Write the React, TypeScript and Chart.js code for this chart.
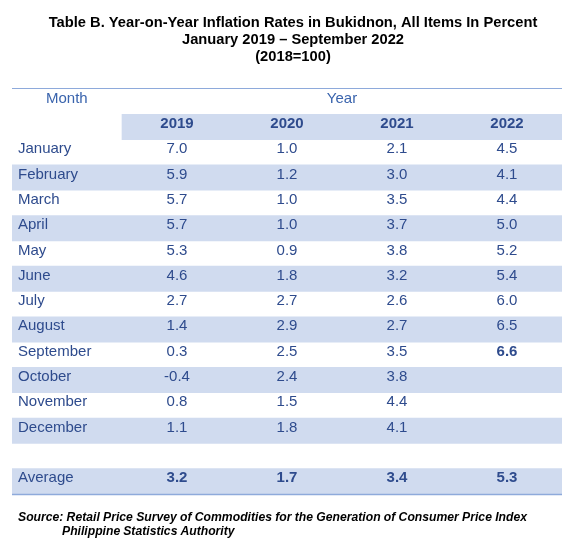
import React, { useEffect, useRef } from "react";
import { Chart, registerables } from "chart.js";

Chart.register(...registerables);

const titleLines = [
  "Table B. Year-on-Year Inflation Rates in Bukidnon, All Items In Percent",
  "January 2019 \u2013 September 2022",
  "(2018=100)",
];
const sourceLines = [
  "Source: Retail Price Survey of Commodities for the Generation of Consumer Price Index",
  "Philippine Statistics Authority",
];
const months = [
  "January", "February", "March", "April", "May", "June",
  "July", "August", "September", "October", "November", "December",
];
const years = ["2019", "2020", "2021", "2022"];
const v2019 = [7.0, 5.9, 5.7, 5.7, 5.3, 4.6, 2.7, 1.4, 0.3, -0.4, 0.8, 1.1];
const v2020 = [1.0, 1.2, 1.0, 1.0, 0.9, 1.8, 2.7, 2.9, 2.5, 2.4, 1.5, 1.8];
const v2021 = [2.1, 3.0, 3.5, 3.7, 3.8, 3.2, 2.6, 2.7, 3.5, 3.8, 4.4, 4.1];
const v2022 = [4.5, 4.1, 4.4, 5.0, 5.2, 5.4, 6.0, 6.5, 6.6, null, null, null];
const averages = [3.2, 1.7, 3.4, 5.3];
const series = [v2019, v2020, v2021, v2022];

const rowLabels = ["Month", "Years", ...months, "gap", "Average"];

const FONT = "Arial, 'Liberation Sans', sans-serif";
const BAND = "#D0DBEF";
const LINE = "#8EAADB";
const TEXT = "#2E4B8D";
const HEAD = "#3A64AD";

const tablePlugin = {
  id: "tableText",
  afterDatasetsDraw(chart: any) {
    const { ctx, chartArea } = chart;
    const x = chart.scales.x;
    const y = chart.scales.y;
    ctx.save();
    // rules
    ctx.strokeStyle = LINE;
    ctx.lineWidth = 1;
    ctx.beginPath();
    ctx.moveTo(chartArea.left, chartArea.top - 0.5);
    ctx.lineTo(chartArea.right, chartArea.top - 0.5);
    ctx.stroke();
    ctx.lineWidth = 1.5;
    ctx.beginPath();
    ctx.moveTo(chartArea.left, chartArea.bottom + 0.5);
    ctx.lineTo(chartArea.right, chartArea.bottom + 0.5);
    ctx.stroke();

    const base = (i: number) => y.getPixelForValue(i) + 1;
    const colX = (j: number) => x.getPixelForValue(1.5 + j);
    const left = x.getPixelForValue(0);

    ctx.textBaseline = "alphabetic";
    // header row
    ctx.fillStyle = HEAD;
    ctx.font = `15px ${FONT}`;
    ctx.textAlign = "left";
    ctx.fillText("Month", left + 34, base(0));
    ctx.textAlign = "center";
    ctx.fillText("Year", x.getPixelForValue(3), base(0));

    // year headers
    ctx.fillStyle = TEXT;
    ctx.font = `bold 15px ${FONT}`;
    years.forEach((yr, j) => ctx.fillText(yr, colX(j), base(1)));

    // months & values
    months.forEach((m, mi) => {
      const row = mi + 2;
      ctx.font = `15px ${FONT}`;
      ctx.textAlign = "left";
      ctx.fillText(m, left + 6, base(row));
      ctx.textAlign = "center";
      series.forEach((s, j) => {
        const v = s[mi];
        if (v === null || v === undefined) return;
        const isLatest = j === series.length - 1 && (mi === s.length - 1 || s[mi + 1] === null);
        ctx.font = `${isLatest ? "bold " : ""}15px ${FONT}`;
        ctx.fillText(v.toFixed(1), colX(j), base(row));
      });
    });

    // average row
    const avgRow = rowLabels.length - 1;
    ctx.font = `15px ${FONT}`;
    ctx.textAlign = "left";
    ctx.fillText("Average", left + 6, base(avgRow));
    ctx.textAlign = "center";
    ctx.font = `bold 15px ${FONT}`;
    averages.forEach((v, j) => ctx.fillText(v.toFixed(1), colX(j), base(avgRow)));

    // title
    ctx.fillStyle = "#000";
    ctx.font = `bold 14.7px ${FONT}`;
    ctx.textAlign = "center";
    ctx.textBaseline = "middle";
    titleLines.forEach((t, i) => ctx.fillText(t, 293, 22.5 + i * 17));

    // source (justified)
    ctx.font = `italic bold 12.2px ${FONT}`;
    ctx.textAlign = "left";
    ctx.textBaseline = "middle";
    const justify = (text: string, x0: number, width: number, yy: number) => {
      const words = text.split(" ");
      const widths = words.map((w) => ctx.measureText(w).width);
      const total = widths.reduce((a, b) => a + b, 0);
      const gap = Math.max(3, (width - total) / (words.length - 1));
      let cx = x0;
      words.forEach((w, i) => {
        ctx.fillText(w, cx, yy);
        cx += widths[i] + gap;
      });
    };
    justify(sourceLines[0], 18, 509, 518);
    justify(sourceLines[1], 62, 171, 532);
    ctx.restore();
  },
};

export default function App() {
  const ref = useRef<HTMLCanvasElement | null>(null);
  useEffect(() => {
    if (!ref.current) return;
    const bandData = rowLabels.map((_, i) =>
      i === 1 ? [1, 5] : i % 2 === 1 ? [0, 5] : null
    );
    const chart = new Chart(ref.current, {
      type: "bar",
      data: {
        labels: rowLabels,
        datasets: [
          {
            data: bandData as any,
            backgroundColor: BAND,
            borderWidth: 0,
            barPercentage: 1,
            categoryPercentage: 1,
          },
        ],
      },
      options: {
        indexAxis: "y",
        animation: false,
        responsive: false,
        layout: { padding: { left: 12, right: 8, top: 89, bottom: 56 } },
        scales: {
          x: { type: "linear", min: 0, max: 5, display: false },
          y: { type: "category", display: false, offset: true },
        },
        plugins: {
          legend: { display: false },
          tooltip: { enabled: false },
          title: { display: false },
        },
      },
      plugins: [tablePlugin],
    });
    return () => chart.destroy();
  }, []);
  return (
    <div style={{ position: "absolute", left: 0, top: 0, width: 570, height: 550, background: "#fff" }}>
      <canvas ref={ref} width={570} height={550} style={{ display: "block" }} />
    </div>
  );
}
